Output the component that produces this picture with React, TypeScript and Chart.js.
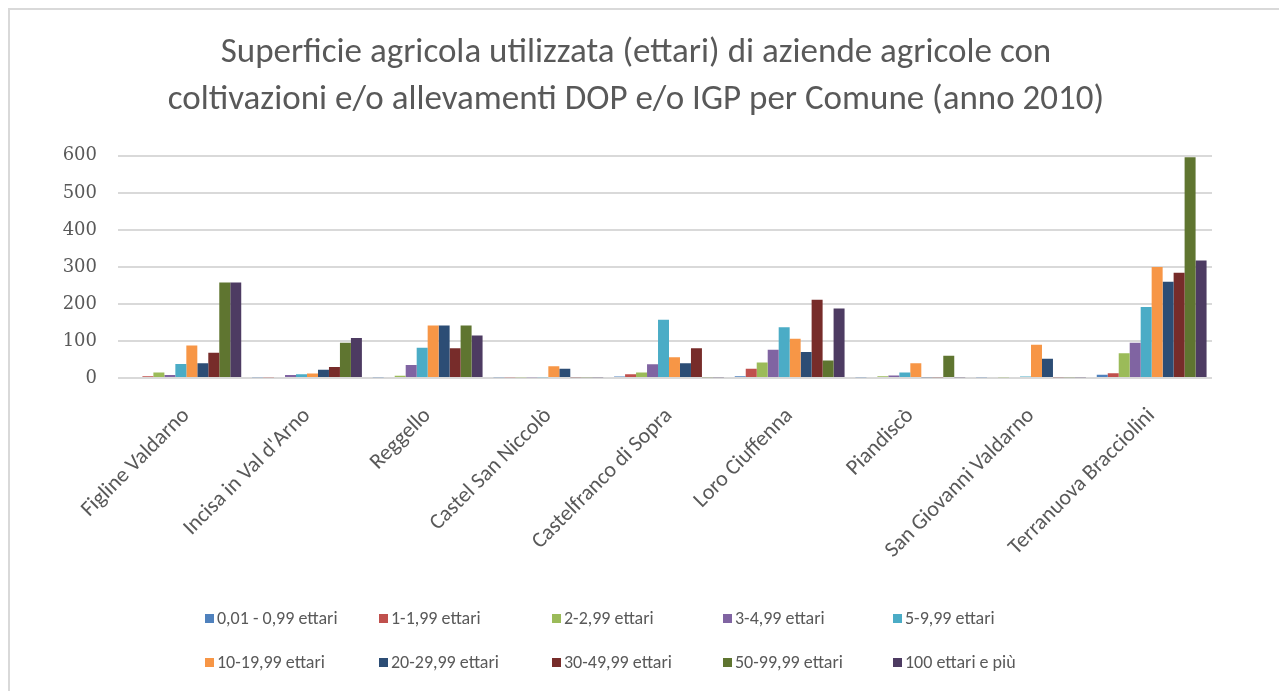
import React, { useEffect, useRef } from "react";
import { Chart, registerables } from "chart.js";

Chart.register(...registerables);

const categories = [
  "Figline Valdarno",
  "Incisa in Val d'Arno",
  "Reggello",
  "Castel San Niccolò",
  "Castelfranco di Sopra",
  "Loro Ciuffenna",
  "Piandiscò",
  "San Giovanni Valdarno",
  "Terranuova Bracciolini",
];

const seriesNames = [
  "0,01 - 0,99 ettari",
  "1-1,99 ettari",
  "2-2,99 ettari",
  "3-4,99 ettari",
  "5-9,99 ettari",
  "10-19,99 ettari",
  "20-29,99 ettari",
  "30-49,99 ettari",
  "50-99,99 ettari",
  "100 ettari e più",
];

const seriesColors = [
  "#4F81BD",
  "#C0504D",
  "#9BBB59",
  "#8064A2",
  "#4BACC6",
  "#F79646",
  "#2C4D75",
  "#772C2A",
  "#5F7530",
  "#4D3B62",
];

const s0001_099 = [3, 2, 2, 2, 4, 5, 2, 2, 9];
const s1_199 = [5, 2, 3, 2, 10, 25, 3, 3, 13];
const s2_299 = [15, 3, 6, 2, 15, 42, 5, 2, 67];
const s3_499 = [8, 8, 35, 2, 37, 76, 7, 3, 95];
const s5_999 = [38, 10, 82, 2, 157, 137, 15, 4, 192];
const s10_1999 = [88, 12, 142, 32, 56, 106, 40, 90, 300];
const s20_2999 = [40, 22, 142, 25, 40, 70, 2, 52, 260];
const s30_4999 = [68, 30, 80, 2, 80, 211, 2, 2, 284];
const s50_9999 = [258, 95, 142, 2, 2, 47, 60, 2, 596];
const s100plus = [258, 108, 115, 2, 2, 188, 2, 2, 317];

const seriesValues = [
  s0001_099,
  s1_199,
  s2_299,
  s3_499,
  s5_999,
  s10_1999,
  s20_2999,
  s30_4999,
  s50_9999,
  s100plus,
];

const yTicks = [0, 100, 200, 300, 400, 500, 600];

const titleLines = [
  "Superficie agricola utilizzata (ettari) di aziende agricole con",
  "coltivazioni e/o allevamenti DOP e/o IGP per Comune (anno 2010)",
];

const TEXT = "#595959";
const SANS = "Carlito, Calibri, Lato, 'Open Sans', sans-serif";

export default function App() {
  const ref = useRef<HTMLCanvasElement | null>(null);

  useEffect(() => {
    if (!ref.current) return;
    const chart = new Chart(ref.current, {
      type: "bar",
      data: {
        labels: categories,
        datasets: seriesNames.map((name, i) => ({
          label: name,
          data: seriesValues[i],
          backgroundColor: seriesColors[i],
          borderWidth: 0,
          barPercentage: 1,
          categoryPercentage: 0.91,
        })),
      },
      options: {
        animation: false,
        responsive: false,
        maintainAspectRatio: false,
        layout: { padding: { left: 0, right: 68, top: 0, bottom: 112 } },
        plugins: {
          legend: { display: false },
          tooltip: { enabled: false },
          title: {
            display: true,
            text: titleLines,
            color: TEXT,
            font: { family: SANS, size: 35, weight: "normal", lineHeight: 1.34 },
            padding: { top: 20, bottom: 32 },
          },
        },
        scales: {
          x: {
            grid: { display: false },
            border: { display: false },
            ticks: {
              color: TEXT,
              font: { family: SANS, size: 22 },
              minRotation: 45,
              maxRotation: 45,
              padding: 17,
            },
            afterFit: (scale: any) => {
              scale.height = 200;
              scale.paddingLeft = 0;
              scale.paddingRight = 0;
            },
          },
          y: {
            min: 0,
            max: 600,
            afterBuildTicks: (scale: any) => {
              scale.ticks = yTicks.map((v) => ({ value: v }));
            },
            grid: {
              color: "#d9d9d9",
              lineWidth: 2,
              drawTicks: true,
              tickLength: 8,
              tickColor: "#d9d9d9",
            },
            border: { display: false },
            ticks: {
              color: TEXT,
              font: { family: "'DejaVu Serif', Cambria, serif", size: 18 },
              padding: 21,
            },
            afterFit: (scale: any) => {
              scale.width = 66;
            },
          },
        },
      },
    });
    return () => chart.destroy();
  }, []);

  const rows = [seriesNames.slice(0, 5), seriesNames.slice(5)];

  return (
    <div
      style={{
        position: "relative",
        width: 1290,
        height: 700,
        borderTop: "2px solid #d9d9d9",
        borderLeft: "2px solid #d9d9d9",
        boxSizing: "border-box",
        background: "#fff",
      }}
    >
      <canvas
        ref={ref}
        width={1220}
        height={680}
        style={{ position: "absolute", left: 50, top: 0, width: 1220, height: 680 }}
      />
      {rows.map((row, r) => (
        <div
          key={r}
          style={{
            position: "absolute",
            left: 195,
            top: 597 + r * 44,
            display: "grid",
            gridTemplateColumns: "174px 173px 171px 170px 170px",
            fontFamily: SANS,
            fontSize: 18,
            color: TEXT,
          }}
        >
          {row.map((name) => {
            const idx = seriesNames.indexOf(name);
            return (
              <div key={name} style={{ display: "flex", alignItems: "center", whiteSpace: "nowrap" }}>
                <span
                  style={{
                    display: "inline-block",
                    width: 9,
                    height: 9,
                    background: seriesColors[idx],
                    marginRight: 3,
                  }}
                />
                <span>{name}</span>
              </div>
            );
          })}
        </div>
      ))}
    </div>
  );
}
